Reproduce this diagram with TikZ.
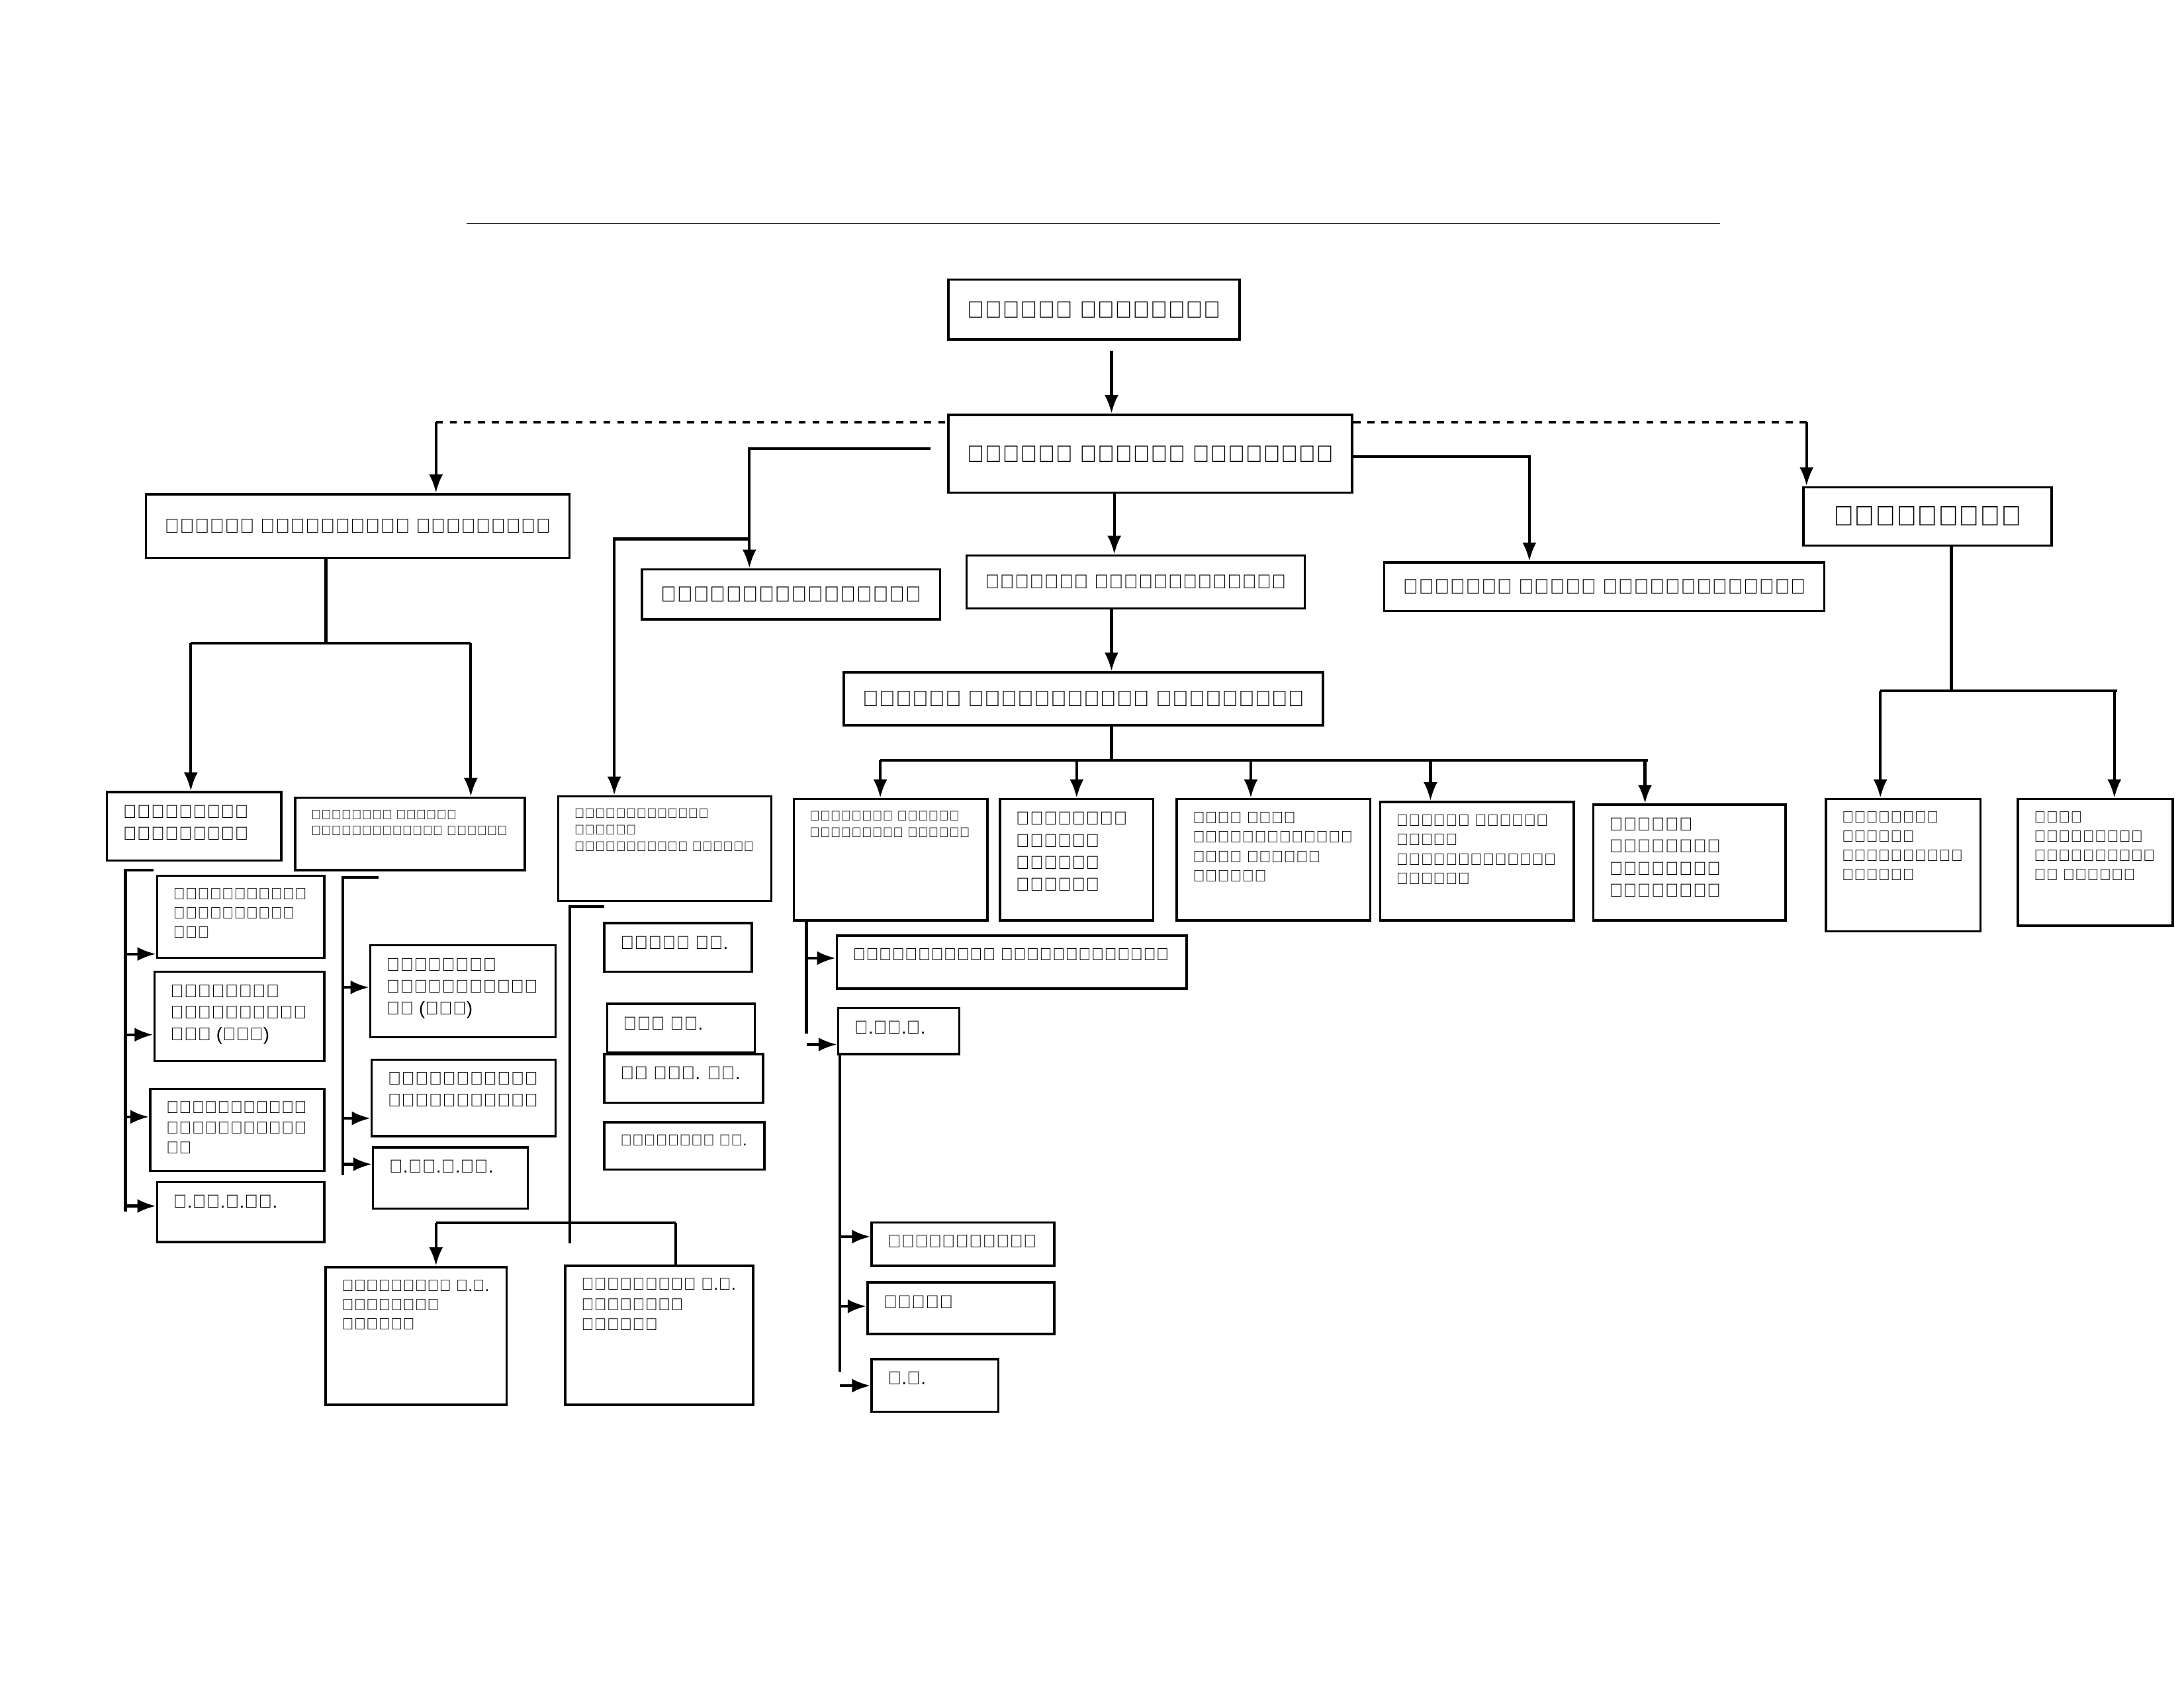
\documentclass[tikz,border=0pt]{standalone}
\usepackage{fontspec}
\setmainfont{Liberation Sans}
\usetikzlibrary{arrows.meta,positioning,calc}
\def\u{0.02105cm}
\tikzset{
  box/.style={draw,line width=1pt,anchor=north west,inner sep=0pt},
  arr/.style={line width=1.2pt,-{Latex[length=8pt,width=6pt]}},
  ln/.style={line width=1.2pt},
}
\newsavebox\fitbox
% shrink a text to a given width if it is wider
\newcommand\fitto[2]{\sbox\fitbox{#2}\ifdim\wd\fitbox>#1\relax\resizebox{#1}{!}{\usebox\fitbox}\else\usebox\fitbox\fi}
% big box: name, x, y, w, h, text
\newcommand\bbx[6]{\node[box,minimum width=#4*\u,minimum height=#5*\u] (#1) at (#2,#3) {};
  \node[inner sep=0pt,font=\large] at (#1.center) {\fitto{\dimexpr#4\dimexpr\u\relax-16pt\relax}{#6}};}
% small box with left-aligned text
\newcommand\sbx[6]{\node[box,minimum width=#4*\u,minimum height=#5*\u] (#1) at (#2,#3) {};
  \node[anchor=north west,inner sep=0pt,font=\footnotesize] at ($(#1.north west)+(12,8)$)
  {\fitto{\dimexpr#4\dimexpr\u\relax-24\dimexpr\u\relax\relax}{\begin{tabular}{@{}l@{}}#6\end{tabular}}};}
\begin{document}
\begin{tikzpicture}[x=\u,y=-\u]
\useasboundingbox (0,0) rectangle (1568,1212);

% title
\node[font=\LARGE\bfseries\itshape,inner sep=0pt] (title) at (785,160) {\fitto{900\dimexpr\u\relax}{\underline{காலி நான்கு கடவைகள் பிரதேச செயலகத்தின்  அமைப்புத் திட்டம்}}};

% top levels
\bbx{ds}{680}{200}{209}{43}{பிரதேச செயலாளர்}
\bbx{ads}{680}{297}{290}{56}{உதவிப் பிரதேச செயலாளர்}
\bbx{adp}{104}{354}{304}{46}{உதவிப் பணிப்பாளர் திட்டமில்}
\bbx{tr}{460}{408}{214}{36}{மொழிபெயர்ப்பாளர்}
\bbx{ao}{693}{398}{243}{38}{நிர்வாக உத்தியோகத்தர்}
\bbx{gn}{993}{403}{316}{35}{நிர்வாக கிராம உத்தியோகத்தர்}
\bbx{acc}{1294}{349}{178}{42}{கணக்காளர்}
\bbx{cma}{605}{482}{344}{38}{பிரதான முகாமைத்துவ உதவியாளர்}

\draw[arr] (798,252) -- (ads.north -| 798,0);
\draw[ln,dashed] (313,303) -- (ads.west |- 0,303);
\draw[ln,dashed] (ads.east |- 0,303) -- (1297,303);
\draw[arr] (313,303) -- (adp.north -| 313,0);
\draw[arr] (1297,303) -- (acc.north -| 1297,0);
\draw[arr] (668,322) -- (538,322) -- (tr.north -| 538,0);
\draw[arr] (ads.south -| 800,0) -- (ao.north -| 800,0);
\draw[arr] (ads.east |- 0,328) -- (1098,328) -- (gn.north -| 1098,0);
\draw[arr] (ao.south -| 798,0) -- (cma.north -| 798,0);

% second row
\sbx{eng}{76}{568}{125}{49}{பொறியியல்\\உதவியாளர்}
\sbx{dev}{211}{572}{165}{52}{பிரிவுத் தலைவர்\\அபிவிருத்திப் பிரிவு}
\sbx{sam}{400}{571}{153}{75}{முகாமைத்துவத்\\தலைவர்\\ சமுர்த்திப் பிரிவு}
\sbx{adm}{569}{573}{139}{87}{பிரிவுத் தலைவர்\\நிர்வாகப் பிரிவு}
\sbx{land}{717}{573}{110}{87}{பிரிவுத்\\தலைவர்\\காணிப்\\பிரிவு}
\sbx{sso}{844}{573}{139}{87}{சமூக சேவை\\உத்தியோகத்தர்\\சமூக சேவைப்\\பிரிவு}
\sbx{skill}{990}{575}{139}{85}{அலகுத் தலைவர்\\திறன்\\ஊக்குவிப்புப்\\பிரிவு}
\sbx{reg}{1143}{577}{138}{83}{மேலதிக\\மாவட்டப்\\பதிவாளர்\\மாவட்டப்}
\sbx{pen}{1310}{573}{111}{95}{பிரிவுத்\\தலைவர்\\ஓய்வூதியப்\\பிரிவு}
\sbx{fin}{1448}{573}{111}{91}{நிதி\\உதவியாளர்\\கணக்கீட்டு\\ப் பிரிவு}

\draw[ln] (adp.south -| 234,0) -- (234,462);
\draw[ln] (137,462) -- (338,462);
\draw[arr] (137,462) -- (eng.north -| 137,0);
\draw[arr] (338,462) -- (dev.north -| 338,0);
\draw[arr] (538,387) -- (441,387) -- (sam.north -| 441,0);
\draw[ln] (cma.south -| 798,0) -- (798,546);
\draw[ln] (632,546) -- (1183,546);
\draw[arr] (632,546) -- (adm.north -| 632,0);
\draw[arr] (773,546) -- (land.north -| 773,0);
\draw[arr] (898,546) -- (sso.north -| 898,0);
\draw[arr] (1027,546) -- (skill.north -| 1027,0);
\draw[arr] (1181,546) -- (reg.north -| 1181,0);
\draw[ln] (acc.south -| 1401,0) -- (1401,496);
\draw[ln] (1350,496) -- (1520,496);
\draw[arr] (1350,496) -- (pen.north -| 1350,0);
\draw[arr] (1518,496) -- (fin.north -| 1518,0);

% engineering branch
\sbx{tech}{112}{628}{120}{59}{தொழில்நுட்ப\\உத்தியோகத்\\கர்}
\sbx{ext1}{110}{697}{122}{64}{வெளிக்கல\\உத்தியோகத்\\கர் (இகர)}
\sbx{do1}{107}{781}{125}{59}{அபிவிருத்தி\\உத்தியோகத்த\\ர்}
\sbx{mas1}{112}{848}{120}{43}{அ.மு.உ.சே.}
\draw[ln] (110,625) -- (90,625) -- (90,870);
\draw[arr] (90,685) -- (tech.west |- 0,685);
\draw[arr] (90,743) -- (ext1.west |- 0,743);
\draw[arr] (90,802) -- (do1.west |- 0,802);
\draw[arr] (90,866) -- (mas1.west |- 0,866);

% development branch
\sbx{ext2}{265}{678}{133}{66}{வெளிக்கல\\உத்தியோகத்த\\ர் (இதர)}
\sbx{do2}{266}{760}{132}{55}{அபிவிருத்தி\\உத்தியோகத்த}
\sbx{mas2}{267}{823}{111}{44}{அ.மு.உ.சே.}
\draw[ln] (272,630) -- (246,630) -- (246,844);
\draw[arr] (246,709) -- (ext2.west |- 0,709);
\draw[arr] (246,803) -- (do2.west |- 0,803);
\draw[arr] (246,836) -- (mas2.west |- 0,836);

% samurdhi branch
\sbx{plan}{433}{662}{106}{35}{திட்ட மு.}
\sbx{zone}{435}{720}{106}{35}{வலய மு.}
\sbx{dist}{433}{756}{114}{35}{மா சங். மு.}
\sbx{note}{433}{805}{115}{34}{குறிப்பு மு.}
\draw[ln] (434,651) -- (409,651) -- (409,893);
\sbx{sa1}{233}{909}{130}{99}{சமுர்த்தி அ.உ.\\வெளிக்கல\\அலுவல்}
\sbx{sa2}{405}{908}{135}{100}{சமுர்த்தி அ.உ.\\வெளிக்கல\\அலுவல்}
\draw[ln] (313,878) -- (485,878);
\draw[arr] (313,878) -- (sa1.north -| 313,0);
\draw[ln] (485,878) -- (sa2.north -| 485,0);

% administration branch
\sbx{do3}{600}{671}{251}{38}{அபிவிருத்தி உத்தியோகத்தர்}
\sbx{ma}{601}{723}{87}{33}{அ.மு.உ.}
\draw[ln] (adm.south -| 579,0) -- (579,742);
\draw[arr] (579,688) -- (do3.west |- 0,688);
\draw[arr] (579,750) -- (ma.west |- 0,750);
\sbx{rec}{625}{877}{131}{31}{வரவேற்பாளர்}
\sbx{drv}{622}{920}{134}{37}{சாரதி}
\sbx{oa}{625}{975}{91}{38}{அ.உ.}
\draw[ln] (603,756) -- (603,985);
\draw[arr] (603,888) -- (rec.west |- 0,888);
\draw[arr] (603,938) -- (drv.west |- 0,938);
\draw[arr] (603,995) -- (oa.west |- 0,995);
\end{tikzpicture}
\end{document}
